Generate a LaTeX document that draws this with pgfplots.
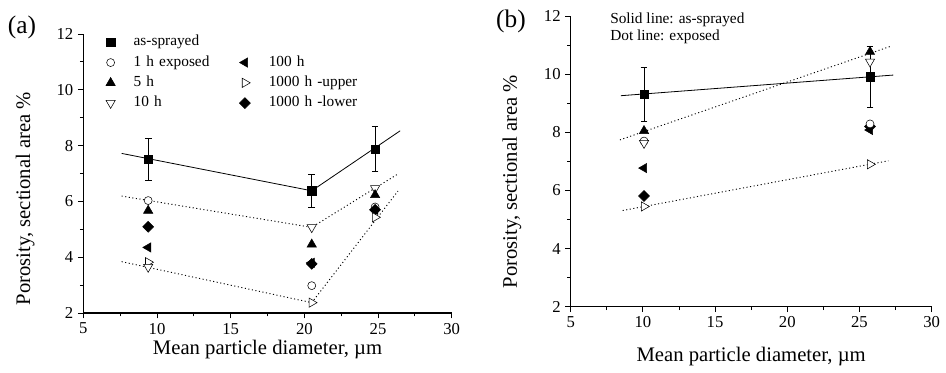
\documentclass[border=0pt]{standalone}
\usepackage{fontspec}
\setmainfont{Liberation Serif}
\usepackage{pgfplots}
\pgfplotsset{compat=1.18}
\pgfplotsset{
  sq/.style={mark=square*, mark size=3.1pt, mark options={fill=black, draw=black, solid}},
  ci/.style={mark=*, mark size=3pt, mark options={fill=white, draw=black, solid}},
  tu/.style={mark=triangle*, mark size=4pt, mark options={fill=black, draw=black, solid}},
  td/.style={mark=triangle*, mark size=4pt, mark options={fill=white, draw=black, rotate=180, solid}},
  tl/.style={mark=triangle*, mark size=4pt, mark options={fill=black, draw=black, rotate=90, solid}},
  tr/.style={mark=triangle*, mark size=4pt, mark options={fill=white, draw=black, rotate=-90, solid}},
  di/.style={mark=square*, mark size=2.9pt, mark options={fill=black, draw=black, rotate=45, solid}},
  fitline/.style={no marks, black, line width=0.6pt},
  dotline/.style={no marks, black, line width=0.7pt, dash pattern=on 0.8pt off 1.9pt},
  common/.style={
    scale only axis,
    xmin=5, xmax=30, ymin=2, ymax=12,
    xtick={5,10,...,30}, ytick={2,4,...,12},
    minor x tick num=1, minor y tick num=1,
    axis lines*=left,
    axis line style={line width=0.8pt, -},
    tick align=outside,
    major tick length=4pt, minor tick length=2.5pt,
    tick style={black, line width=0.6pt},
    xticklabel style={font=\fontsize{12.5}{14}\selectfont},
    yticklabel style={font=\fontsize{12.5}{14}\selectfont},
    /pgf/number format/assume math mode=true,
    label style={font=\fontsize{15.5}{17}\selectfont},
    xlabel={Mean particle diameter, µm},
    ylabel={Porosity, sectional area \%},
  },
}
\newcommand{\lgsp}{\hspace*{12.3pt}}
\begin{document}
\begin{tikzpicture}
\useasboundingbox (0,0) rectangle (709.5pt,279.75pt);
% ---------------- panel (a) ----------------
\begin{axis}[common,
  at={(62.5pt,45pt)}, anchor=south west,
  width=276.3pt, height=209.25pt,
  xlabel style={at={(axis description cs:0.5,-0.1326)}, anchor=center},
  ylabel style={at={(axis description cs:-0.158,0.41)}, anchor=center},
  legend columns=2,
  legend style={at={(axis description cs:0.050,1.013)}, anchor=north west,
    draw=none, fill=none, font=\fontsize{11.5}{13}\selectfont,
    column sep=0pt,
    nodes={inner sep=1.5pt, text height=8pt, text depth=2.5pt, text width=85.7pt},
    row sep=1.7pt},
  legend cell align=left,
]
\addlegendimage{only marks, sq}\addlegendentry{\lgsp as-sprayed}
\addlegendimage{empty legend}\addlegendentry{}
\addlegendimage{only marks, ci}\addlegendentry{\lgsp 1 h exposed}
\addlegendimage{only marks, tl}\addlegendentry{\lgsp 100 h}
\addlegendimage{only marks, tu}\addlegendentry{\lgsp 5 h}
\addlegendimage{only marks, tr}\addlegendentry{\lgsp 1000 h -upper}
\addlegendimage{only marks, td}\addlegendentry{\lgsp 10 h}
\addlegendimage{only marks, di}\addlegendentry{\lgsp 1000 h -lower}
% lines
\addplot[fitline, forget plot] coordinates {(7.6,7.72) (20.5,6.38) (26.5,8.53)};
\addplot[dotline, forget plot] coordinates {(7.6,6.19) (20.5,5.07) (26.4,7.0)};
\addplot[dotline, forget plot] coordinates {(7.6,3.84) (20.5,2.37) (26.35,6.37)};
% markers
\addplot[only marks, tl, forget plot] coordinates {(9.4,4.35) (20.5,3.80) (24.8,5.70)};
\addplot[only marks, ci, forget plot] coordinates {(9.4,6.03) (20.5,2.98) (24.8,5.80)};
\addplot[only marks, di, forget plot] coordinates {(9.4,5.09) (20.5,3.76) (24.8,5.70)};
\addplot[only marks, tr, forget plot] coordinates {(9.4,3.82) (20.5,2.37) (24.8,5.43)};
\addplot[only marks, td, forget plot] coordinates {(9.4,3.65) (20.5,5.07) (24.8,6.47)};
\addplot[only marks, tu, forget plot] coordinates {(9.4,5.67) (20.5,4.46) (24.8,6.23)};
\addplot[only marks, sq, forget plot,
  error bars/.cd, y dir=both, y explicit,
  error mark options={black, line width=0.6pt, rotate=90, mark size=2.5pt},
  error bar style={black, line width=0.6pt}]
  coordinates {(9.4,7.52) +- (0,0.75) (20.5,6.38) +- (0,0.59) (24.8,7.88) +- (0,0.80)};
\end{axis}
\node[font=\fontsize{19}{21}\selectfont] at (16.5pt,259.5pt) {(a)};
% ---------------- panel (b) ----------------
\begin{axis}[common,
  at={(428pt,49.7pt)}, anchor=south west,
  width=270.75pt, height=218pt,
  xlabel style={at={(axis description cs:0.5,-0.170)}, anchor=center},
  ylabel style={at={(axis description cs:-0.163,0.43)}, anchor=center},
]
\addplot[fitline] coordinates {(8.48,9.26) (27.34,9.97)};
\addplot[dotline] coordinates {(8.41,7.74) (27.1,10.95)};
\addplot[dotline] coordinates {(8.6,5.31) (27.0,7.02)};
\addplot[only marks, tl] coordinates {(10.08,6.77) (25.73,8.08)};
\addplot[only marks, di] coordinates {(10.08,5.81) (25.73,8.20)};
\addplot[only marks, ci] coordinates {(10.08,7.70) (25.73,8.29)};
\addplot[only marks, tr] coordinates {(10.08,5.45) (25.73,6.90)};
\addplot[only marks, td] coordinates {(10.08,7.63) (25.73,10.43)};
\addplot[only marks, tu] coordinates {(10.08,8.05) (25.73,10.77)};
\addplot[only marks, sq,
  error bars/.cd, y dir=both, y explicit,
  error mark options={black, line width=0.6pt, rotate=90, mark size=2.5pt},
  error bar style={black, line width=0.6pt}]
  coordinates {(10.08,9.32) +- (0,0.93) (25.73,9.91) +- (0,1.05)};
\end{axis}
\node[font=\fontsize{19}{21}\selectfont] at (383.25pt,264pt) {(b)};
\node[font=\fontsize{11.5}{13}\selectfont, anchor=west, inner sep=0pt] at (457.5pt,264.75pt) {Solid line: as-sprayed};
\node[font=\fontsize{11.5}{13}\selectfont, anchor=west, inner sep=0pt] at (457.5pt,252.2pt) {Dot line: exposed};
\end{tikzpicture}
\end{document}
